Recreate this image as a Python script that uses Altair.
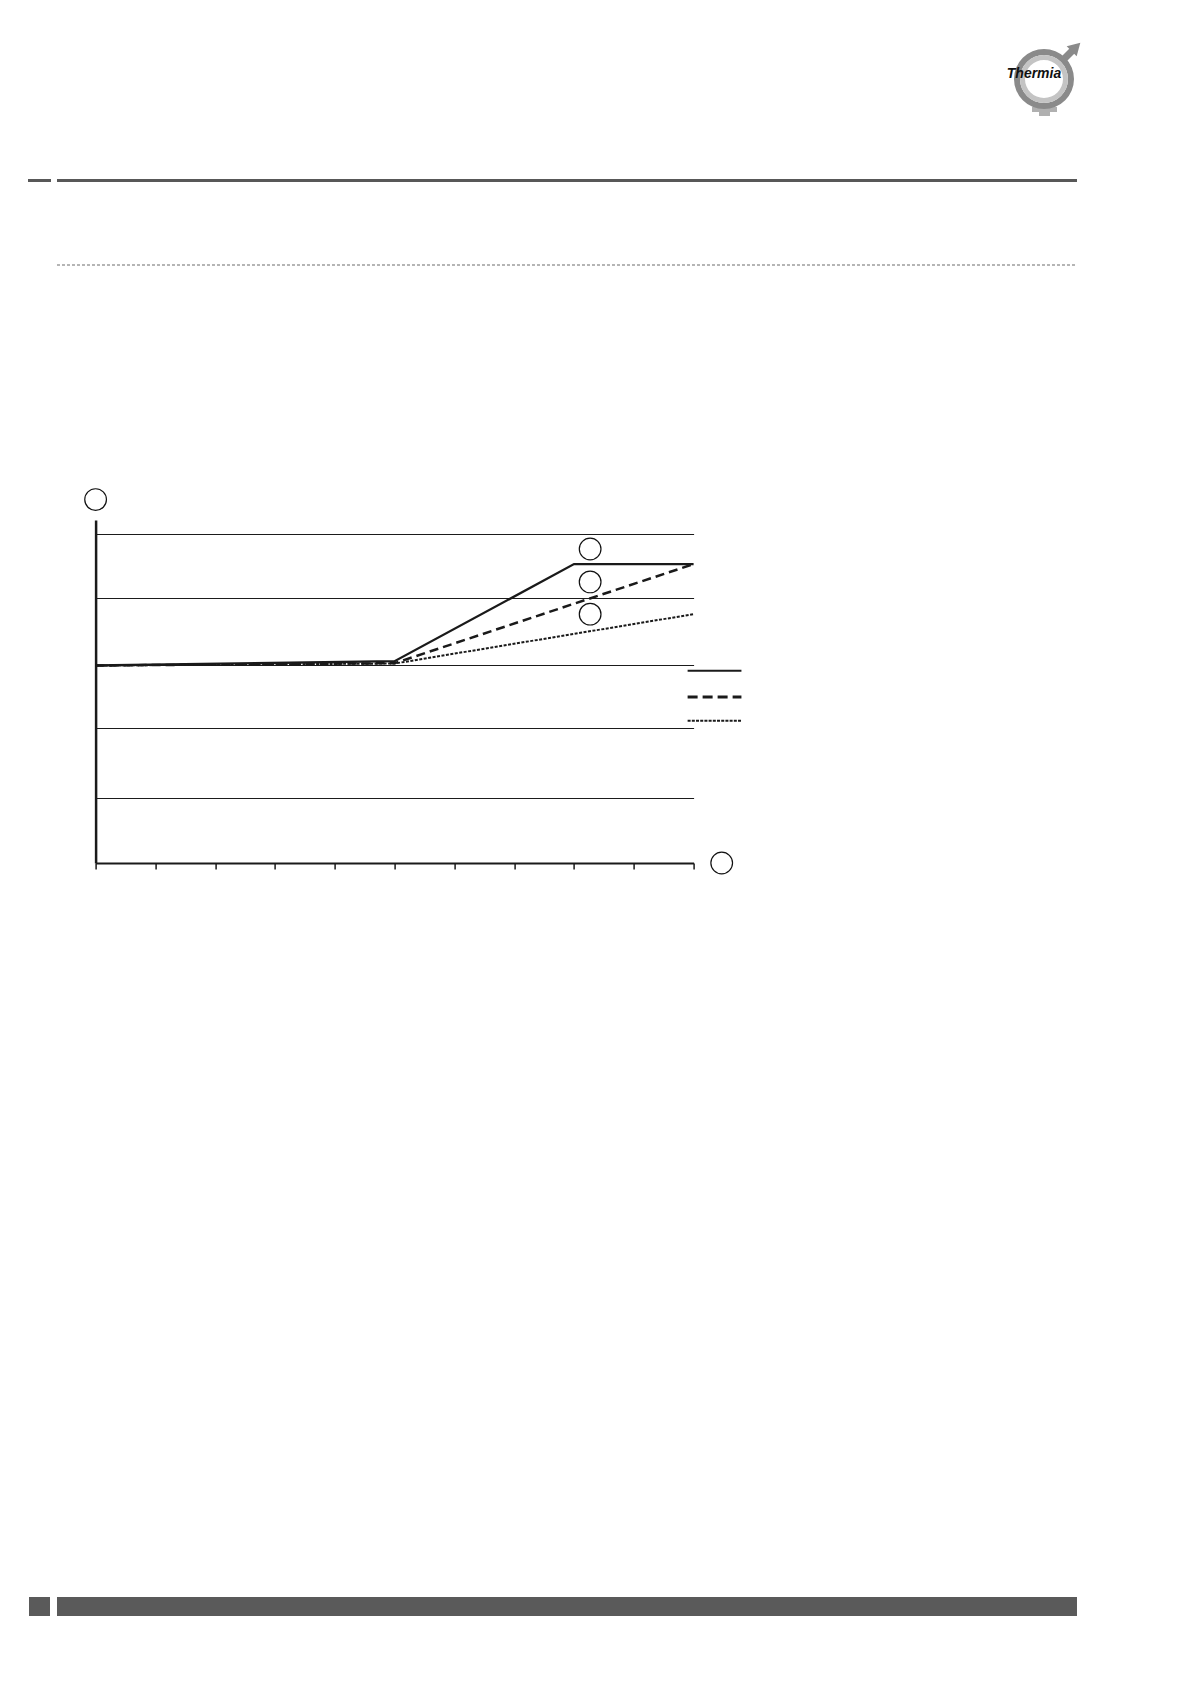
import altair as alt
import pandas as pd

# ---------------- data ----------------
solid_x = [0, 5, 8, 10]
solid_y = [3.0, 3.065, 4.54, 4.54]
dashed_x = [0, 5, 10]
dashed_y = [3.0, 3.035, 4.54]
dotted_x = [0, 5, 10]
dotted_y = [3.0, 3.03, 3.78]

x_ticks = list(range(0, 11))
y_grid = [0.99, 2.05, 3.0, 4.03, 5.0]

# callout circles (labels were empty in the source)
marker_x = [8.27, 8.27, 8.27, 0.0, 10.47]
marker_y = [4.77, 4.27, 3.78, 5.52, 0.0]

legend_names = ["solid", "dashed", "dotted"]
legend_y = [2.92, 2.52, 2.16]
legend_x0 = 9.9
legend_x1 = 10.8

# ---------------- geometry ----------------
W, H = 598, 343
PAD_L, PAD_T = 87.6, 512
INK = "#1a1a1a"

xs = alt.Scale(domain=[0, 10], nice=False, zero=False)
ys = alt.Scale(domain=[0, 5.21], nice=False, zero=False)

def line_df(xv, yv):
    return pd.DataFrame({"x": xv, "y": yv})

base_axes = alt.Chart(pd.DataFrame({"x": [0], "y": [0]})).mark_point(opacity=0).encode(
    x=alt.X("x:Q", scale=xs,
            axis=alt.Axis(values=x_ticks, labels=False, title=None, grid=False,
                          domainColor=INK, domainWidth=2, tickColor=INK,
                          tickWidth=1.5, tickSize=6)),
    y=alt.Y("y:Q", scale=ys,
            axis=alt.Axis(values=y_grid, labels=False, title=None, ticks=False,
                          grid=True, gridColor=INK, gridWidth=1,
                          domainColor=INK, domainWidth=2.5)),
)

solid = alt.Chart(line_df(solid_x, solid_y)).mark_line(color=INK, strokeWidth=2.3).encode(
    x=alt.X("x:Q", scale=xs), y=alt.Y("y:Q", scale=ys))
dashed = alt.Chart(line_df(dashed_x, dashed_y)).mark_line(
    color=INK, strokeWidth=2.5, strokeDash=[9, 5]).encode(
    x=alt.X("x:Q", scale=xs), y=alt.Y("y:Q", scale=ys))
dotted = alt.Chart(line_df(dotted_x, dotted_y)).mark_line(
    color=INK, strokeWidth=2, strokeDash=[3, 1.5]).encode(
    x=alt.X("x:Q", scale=xs), y=alt.Y("y:Q", scale=ys))

circles = alt.Chart(pd.DataFrame({"x": marker_x, "y": marker_y})).mark_point(
    shape="circle", size=470, filled=False, stroke="#111", strokeWidth=1.2, opacity=1).encode(
    x=alt.X("x:Q", scale=xs), y=alt.Y("y:Q", scale=ys))

leg_styles = {"solid": ([], 2.2), "dashed": ([10, 5], 3), "dotted": ([3, 1.2], 2)}
legend_layers = []
for name, ly in zip(legend_names, legend_y):
    dash, wdt = leg_styles[name]
    kw = dict(color=INK, strokeWidth=wdt)
    if dash:
        kw["strokeDash"] = dash
    legend_layers.append(
        alt.Chart(pd.DataFrame({"x": [legend_x0], "x2": [legend_x1], "y": [ly]}))
        .mark_rule(**kw)
        .encode(x=alt.X("x:Q", scale=xs), x2="x2:Q", y=alt.Y("y:Q", scale=ys))
    )

# ---------------- page decorations (pixel positions relative to plot origin) ----------------
one = pd.DataFrame({"k": [0]})
OX, OY = PAD_L + 8, PAD_T + 8
def px(X):
    return X - OX
def py(Y):
    return Y - OY

GREY = "#585858"
deco = [
    alt.Chart(one).mark_rule(color=GREY, strokeWidth=3).encode(
        x=alt.value(px(28)), x2=alt.value(px(51)), y=alt.value(py(180.5))),
    alt.Chart(one).mark_rule(color=GREY, strokeWidth=3).encode(
        x=alt.value(px(57)), x2=alt.value(px(1077)), y=alt.value(py(180.5))),
    alt.Chart(one).mark_rule(color="#6a6a6a", strokeWidth=1, strokeDash=[3, 2]).encode(
        x=alt.value(px(57)), x2=alt.value(px(1077)), y=alt.value(py(265))),
    alt.Chart(one).mark_rect(color="#5a5a5a").encode(
        x=alt.value(px(29)), x2=alt.value(px(50)), y=alt.value(py(1597)), y2=alt.value(py(1616))),
    alt.Chart(one).mark_rect(color="#5a5a5a").encode(
        x=alt.value(px(57)), x2=alt.value(px(1077)), y=alt.value(py(1597)), y2=alt.value(py(1616))),
]

# logo
LCX, LCY = 1044, 79
logo = [
    alt.Chart(one).mark_rule(color="#8a8a8a", strokeWidth=7).encode(
        x=alt.value(px(1062)), x2=alt.value(px(1074)), y=alt.value(py(61)), y2=alt.value(py(49))),
    alt.Chart(one).mark_point(shape="triangle-up", filled=True, color="#8a8a8a",
                              size=200, angle=45, opacity=1).encode(
        x=alt.value(px(1076)), y=alt.value(py(47))),
    alt.Chart(one).mark_rect(color="#b0b0b0").encode(
        x=alt.value(px(1039)), x2=alt.value(px(1050)), y=alt.value(py(104)), y2=alt.value(py(116))),
    alt.Chart(one).mark_rect(color="#b0b0b0").encode(
        x=alt.value(px(1032)), x2=alt.value(px(1057)), y=alt.value(py(107)), y2=alt.value(py(112))),
    alt.Chart(one).mark_arc(radius=30, radius2=24, theta=0, theta2=6.2832, color="#8a8a8a").encode(
        x=alt.value(px(LCX)), y=alt.value(py(LCY))),
    alt.Chart(one).mark_arc(radius=24, radius2=19, theta=0, theta2=6.2832, color="#c4c4c4").encode(
        x=alt.value(px(LCX)), y=alt.value(py(LCY))),
    alt.Chart(one).mark_text(text="Thermia", font="Liberation Sans", fontWeight="bold",
                             fontStyle="italic", fontSize=14, color="#111",
                             align="center", baseline="middle").encode(
        x=alt.value(px(1034)), y=alt.value(py(74))),
]

chart = alt.layer(base_axes, solid, dashed, dotted, circles, *legend_layers, *deco, *logo).properties(
    width=W, height=H,
    autosize=alt.AutoSizeParams(type="none"),
    padding={"left": PAD_L, "top": PAD_T, "right": 489, "bottom": 780},
).configure(background="white", view=alt.ViewConfig(strokeWidth=0, stroke=None))

chart.save("out.html", embed_options={"renderer": "svg", "actions": False})
